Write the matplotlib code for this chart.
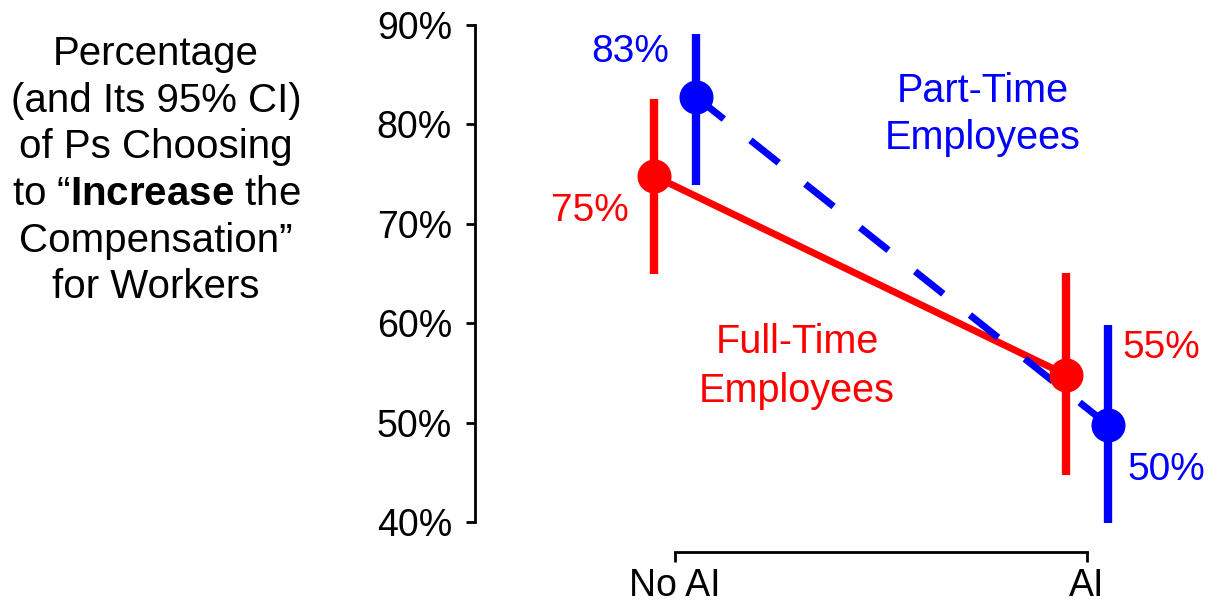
import numpy as np
import matplotlib
matplotlib.use("Agg")
import matplotlib.pyplot as plt

plt.rcParams['font.family'] = ['Liberation Sans', 'DejaVu Sans']
plt.rcParams['mathtext.fontset'] = 'custom'
plt.rcParams['mathtext.bf'] = 'Liberation Sans:bold'
plt.rcParams['mathtext.rm'] = 'Liberation Sans'

# data (percent)
conditions = ['No AI', 'AI']
full_time_pct = [74.8, 54.8]
full_time_lo = [65.0, 44.7]
full_time_hi = [82.6, 65.1]
part_time_pct = [82.8, 49.8]
part_time_lo = [73.9, 39.9]
part_time_hi = [89.1, 59.8]
y_ticks = [40, 50, 60, 70, 80, 90]

RED = '#FF0000'
BLUE = '#0000FF'

fig = plt.figure(figsize=(12.12, 6.10), dpi=100)
ax = fig.add_axes([475 / 1212, 58 / 610, 737 / 1212, 527 / 610])

x = np.arange(len(conditions))
x_full = x - 0.05
x_part = x + 0.05


def draw_series(xs, pct, lo, hi, color, ls, z):
    pct = np.array(pct)
    yerr = [pct - np.array(lo), np.array(hi) - pct]
    line, = ax.plot(xs, pct, color=color, lw=5, ls=ls, zorder=z, solid_capstyle='butt')
    if ls == '--':
        line.set_dashes((5.2, 4.9))
    ax.errorbar(xs, pct, yerr=yerr, fmt='none', ecolor=color, elinewidth=6,
                capsize=0, zorder=z + 2)
    ax.plot(xs, pct, 'o', color=color, markersize=23.5, zorder=z + 3)


draw_series(x_full, full_time_pct, full_time_lo, full_time_hi, RED, '-', 2)
draw_series(x_part, part_time_pct, part_time_lo, part_time_hi, BLUE, '--', 3)

# value labels (offsets in pixels from the point)
label_offsets_full = [(-65, -35), (95, 27)]
label_offsets_part = [(-65, 45), (59, -45)]
for xs, pct, offs, color in [(x_full, full_time_pct, label_offsets_full, RED),
                             (x_part, part_time_pct, label_offsets_part, BLUE)]:
    for xi, v, (dx, dy) in zip(xs, pct, offs):
        ax.annotate(f"{round(v)}%", (xi, v), xytext=(dx, dy), textcoords='offset pixels',
                    ha='center', va='center', fontsize=28, color=color, zorder=10)

# series names
ax.text(0.748, 82.25, 'Part-Time', color=BLUE, fontsize=28.5, ha='center', va='baseline')
ax.text(0.748, 77.5, 'Employees', color=BLUE, fontsize=28.5, ha='center', va='baseline')
ax.text(0.296, 57.0, 'Full-Time', color=RED, fontsize=28.5, ha='center', va='baseline')
ax.text(0.296, 52.07, 'Employees', color=RED, fontsize=28.5, ha='center', va='baseline')

ax.set_xlim(-200 / 412, 537 / 412)
ax.set_ylim(37, 90)
ax.set_yticks(y_ticks)
ax.set_yticklabels([f"{t}%" for t in y_ticks])
ax.set_xticks(x)
ax.set_xticklabels(conditions)

for s in ['top', 'right']:
    ax.spines[s].set_visible(False)
ax.spines['left'].set_bounds(40, 90)
ax.spines['bottom'].set_bounds(0, 1)
ax.spines['left'].set_linewidth(2)
ax.spines['bottom'].set_linewidth(2)
ax.tick_params(axis='y', direction='out', length=6.5, width=2, labelsize=27, pad=10)
ax.tick_params(axis='x', direction='out', length=7.2, width=2, labelsize=27, pad=4)
ax.patch.set_alpha(0)

# y axis title on the left, one line at a time
title_lines = ['Percentage', '(and Its 95% CI)', 'of Ps Choosing',
               'to \u201c$\\mathbf{Increase}$ the', 'Compensation\u201d', 'for Workers']
baselines = [65, 112, 158, 205, 252, 298]
for line, b in zip(title_lines, baselines):
    fig.text(156 / 1212, 1 - b / 610, line, fontsize=29, ha='center', va='baseline')

fig.savefig('out.png', dpi=100)
